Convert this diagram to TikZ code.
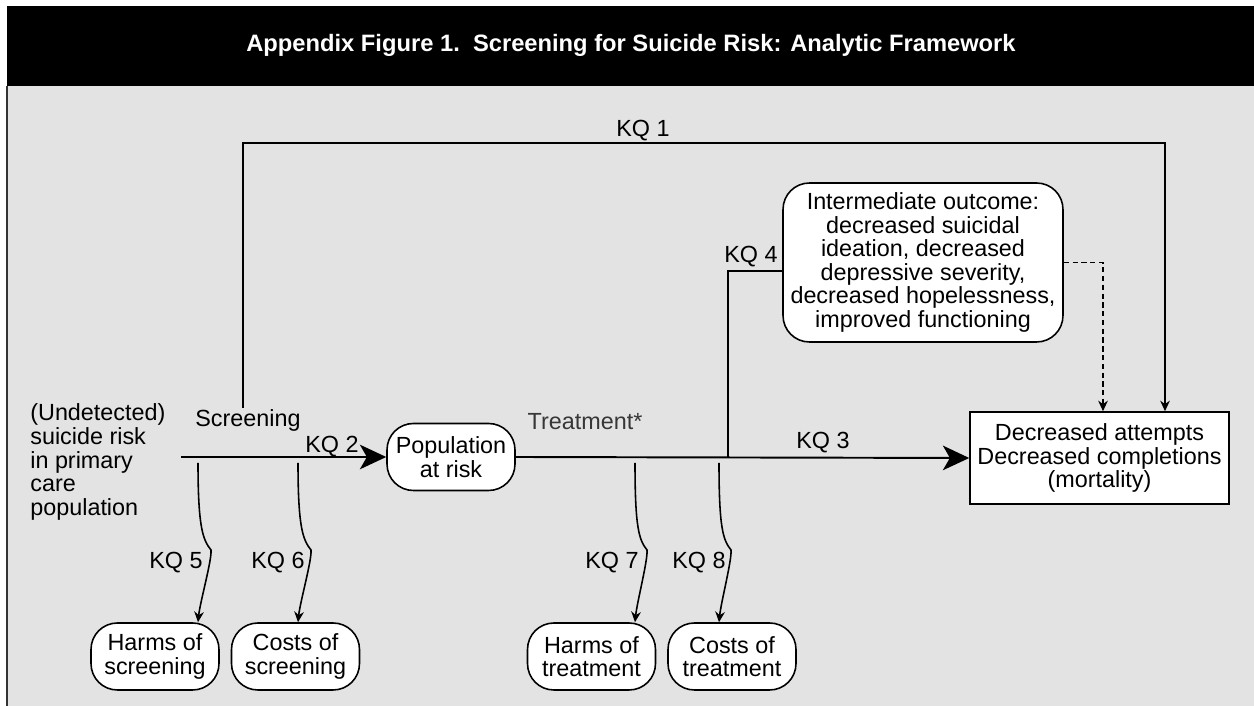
\documentclass[tikz,border=0pt]{standalone}
\usepackage{fontspec}
\setmainfont{Liberation Sans}
\usetikzlibrary{arrows.meta}
\definecolor{panelgray}{RGB}{227,227,227}
\definecolor{txtgray}{RGB}{55,55,55}

\begin{document}
\begin{tikzpicture}[x=0.02cm, y=0.02cm,
    font=\fontsize{13.3}{13.4}\selectfont,
    box/.style={draw, line width=0.9pt, fill=white, rounded corners=15pt, align=center,
        inner sep=2pt, minimum width=2.56cm, minimum height=1.34cm},
    bigarr/.style={line width=1.1pt, -{Stealth[length=15pt,width=14pt,inset=4pt]}},
    arr/.style={line width=0.9pt, -{Stealth[length=6pt,width=5.5pt]}},
    lbl/.style={inner sep=0pt}]
    \useasboundingbox (0,0) rectangle (1254,706);

    % title bar and panel
    \fill[black] (7,620) rectangle (1254,700);
    \fill[panelgray] (7,0) rectangle (1254,620);
    \draw[line width=0.8pt, black!80] (7,0) -- (7,620);
    \node[anchor=base, text=white, font=\fontsize{13.5}{16}\selectfont\bfseries] (title) at (631,654)
        {Appendix Figure 1.\ \ Screening for Suicide Risk: Analytic Framework};

    % nodes
    \node[lbl, anchor=west, align=left] (risk) at (30,244)
        {(Undetected)\\suicide risk\\in primary\\care\\population};
    \node[box] (pop) at (451,249) {Population\\at risk};
    \node[box, minimum width=5.6cm, minimum height=3.18cm] (inter) at (923,443.5)
        {Intermediate outcome:\\decreased suicidal\\ideation, decreased\\depressive severity,\\decreased hopelessness,\\improved functioning};
    \node[draw, line width=0.9pt, fill=white, align=center, minimum width=5.18cm, minimum height=1.84cm] (dec) at (1099.5,248)
        {Decreased attempts\\Decreased completions\\(mortality)};
    \node[box] (hs) at (155,49.5) {Harms of\\screening};
    \node[box] (cs) at (295.5,49.5) {Costs of\\screening};
    \node[box] (ht) at (591.5,49.5) {Harms of\\treatment};
    \node[box] (ct) at (732,49.5) {Costs of\\treatment};

    % labels
    \node[lbl] (scr) at (248,286) {Screening};
    \node[lbl, text=txtgray] (trt) at (585,284) {Treatment*};
    \node[lbl] (kq1) at (643,575) {KQ 1};
    \node[lbl] (kq2) at (332,259) {KQ 2};
    \node[lbl] (kq3) at (823,263) {KQ 3};
    \node[lbl] (kq4) at (751,449) {KQ 4};
    \node[lbl] (kq5) at (176,143) {KQ 5};
    \node[lbl] (kq6) at (278,143) {KQ 6};
    \node[lbl] (kq7) at (612,143) {KQ 7};
    \node[lbl] (kq8) at (699,143) {KQ 8};

    % points on the lines
    \coordinate (main0) at (181,249);
    \coordinate (kq1s) at (243,298);
    \coordinate (kq1c) at (1165,563);
    \coordinate (kq4s) at (728,249);
    \coordinate (kq4c) at (728,435);
    \coordinate (dsh) at (1103,0);
    \coordinate (s5) at (198,243);
    \coordinate (s6) at (298,243);
    \coordinate (s7) at (635,243);
    \coordinate (s8) at (719,243);

    % connectors
    \draw[bigarr] (main0) -- (pop.west);
    \draw[bigarr] (pop.east) -- (dec.west);
    \draw[arr] (kq1s) |- (kq1c) -- (kq1c |- dec.north);
    \draw[line width=0.9pt] (kq4s) -- (kq4c) -- (kq4c -| inter.west);
    \draw[arr, dash pattern=on 3pt off 2pt] (inter.east) -| (dsh |- dec.north);

    \draw[arr] (s5) .. controls +(0,-65) and +(-8,10) .. ++(13,-87) .. controls +(1,-10) and +(2,20) .. (s5 |- hs.north);
    \draw[arr] (s6) .. controls +(0,-65) and +(-8,10) .. ++(13,-87) .. controls +(1,-10) and +(2,20) .. (s6 |- cs.north);
    \draw[arr] (s7) .. controls +(0,-65) and +(-8,10) .. ++(12,-87) .. controls +(1,-10) and +(2,20) .. (s7 |- ht.north);
    \draw[arr] (s8) .. controls +(0,-65) and +(-8,10) .. ++(12,-87) .. controls +(1,-10) and +(2,20) .. (s8 |- ct.north);
\end{tikzpicture}
\end{document}
